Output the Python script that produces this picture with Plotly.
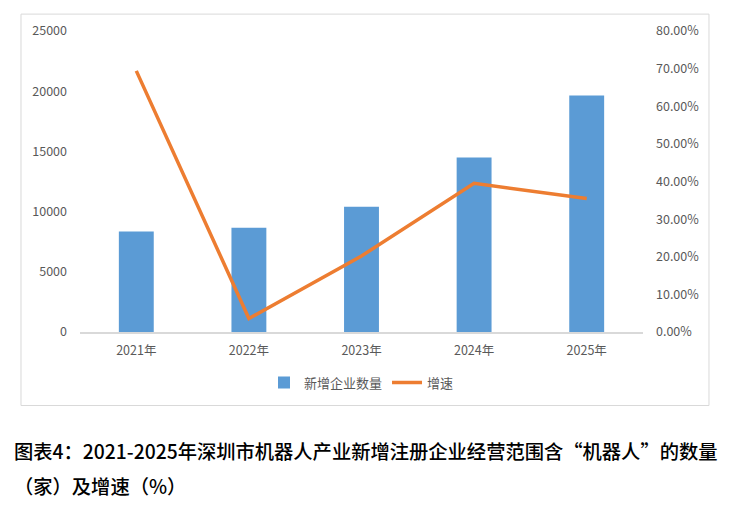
import plotly.graph_objects as go

# 2021-2025 深圳市机器人产业新增注册企业数量及增速
years = ["2021年", "2022年", "2023年", "2024年", "2025年"]
new_firms = [8350, 8650, 10400, 14500, 19650]
growth = [0.694, 0.036, 0.202, 0.395, 0.355]

left_ticks = [0, 5000, 10000, 15000, 20000, 25000]
right_ticks = [0, 0.1, 0.2, 0.3, 0.4, 0.5, 0.6, 0.7, 0.8]

caption_1 = "图表4：2021-2025年深圳市机器人产业新增注册企业经营范围含“机器人”的数量"
caption_2 = "（家）及增速（%）"

tick_font = dict(family="Noto Sans CJK SC", size=12.5, color="#595959")
caption_font = dict(family="Noto Sans CJK SC", size=19.3, color="#000000", weight=500)

fig = go.Figure()

fig.add_trace(go.Bar(
    x=years, y=new_firms, name="新增企业数量",
    marker=dict(color="#5B9BD5", line=dict(width=0)),
))

fig.add_trace(go.Scatter(
    x=years, y=growth, name="增速", yaxis="y2",
    mode="lines", line=dict(color="#ED7D31", width=3.5),
))

# page body has an 8px margin, so the figure is drawn 8px smaller
fig.update_layout(
    width=724, height=501,
    margin=dict(l=72, r=89, t=21, b=177),
    paper_bgcolor="white", plot_bgcolor="white",
    bargap=0.69,
    font=tick_font,
    showlegend=True,
    legend=dict(
        orientation="h", x=0.50, xanchor="center", y=-0.168, yanchor="middle",
        font=dict(family="Noto Sans CJK SC", size=13, color="#595959"),
        itemwidth=30, tracegroupgap=0,
    ),
    xaxis=dict(
        showgrid=False, showline=True, linecolor="#d9d9d9", linewidth=1.5,
        ticks="", tickfont=tick_font, ticklabelstandoff=6,
    ),
    yaxis=dict(
        range=[0, 25000], tickvals=left_ticks, tickformat="d", showgrid=False,
        zeroline=False, showline=False, ticks="", tickfont=tick_font,
        ticklabelstandoff=12,
    ),
    yaxis2=dict(
        range=[0, 0.8], tickvals=right_ticks, tickformat=".2%",
        overlaying="y", side="right", showgrid=False, zeroline=False,
        showline=False, ticks="", tickfont=tick_font, ticklabelstandoff=12,
    ),
    shapes=[dict(
        type="rect", xref="paper", yref="paper",
        x0=-0.1048, x1=1.1172, y0=-0.2442, y1=1.0561,
        line=dict(color="#d9d9d9", width=1), layer="below",
    )],
    annotations=[
        dict(text=caption_1, xref="paper", yref="paper", x=-0.1208, y=-0.396,
             xanchor="left", yanchor="middle", showarrow=False,
             font=caption_font),
        dict(text=caption_2, xref="paper", yref="paper", x=-0.1208, y=-0.5116,
             xanchor="left", yanchor="middle", showarrow=False,
             font=caption_font),
    ],
)

fig.write_html("out.html")
